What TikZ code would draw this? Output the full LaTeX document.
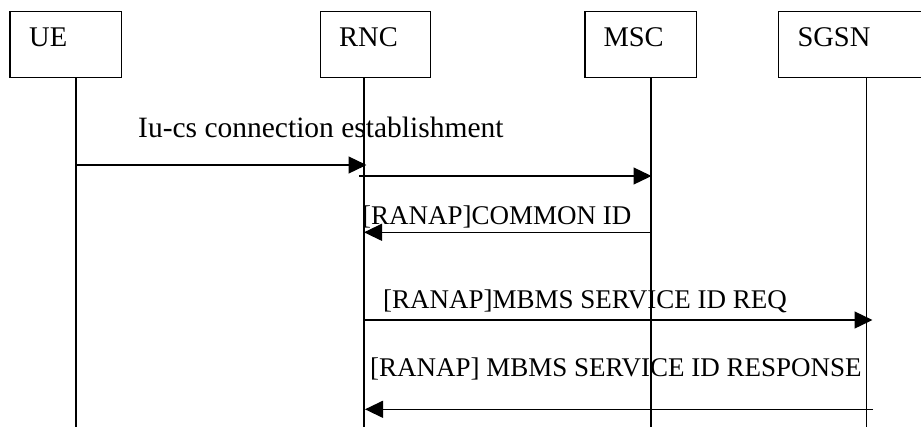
\documentclass[tikz,border=0pt]{standalone}
\usepackage{fontspec}
\setmainfont{Liberation Serif}
\usetikzlibrary{arrows.meta}
\begin{document}
\begin{tikzpicture}[x=1pt,y=-1pt,
  entbox/.style={draw, line width=1.3pt, anchor=north west, minimum height=66pt, inner sep=0pt},
  entlbl/.style={anchor=base west, inner sep=0pt, font=\fontsize{28.5}{30}\selectfont},
  msglbl/.style={anchor=base west, inner sep=0pt, font=\fontsize{27}{29}\selectfont},
  life/.style={line width=1.3pt},
  msg/.style={line width=1.3pt, -{Triangle[length=18pt,width=17pt]}}]
\useasboundingbox (0,0) rectangle (921,426);
\clip (0,0) rectangle (921,426);
% entity boxes
\node[entbox, minimum width=111.4pt] (ue) at (9.3,10.7) {};
\node[entbox, minimum width=110pt] (rnc) at (320,10.7) {};
\node[entbox, minimum width=111.4pt] (msc) at (584.3,10.7) {};
\node[entbox, minimum width=160pt] (sgsn) at (777.7,10.7) {};
\node[entlbl] (uet) at (29,46.7) {UE};
\node[entlbl] (rnct) at (339,46.7) {RNC};
\node[entlbl] (msct) at (603.3,46.7) {MSC};
\node[entlbl] (sgsnt) at (797.3,46.7) {SGSN};
% lifelines
\coordinate (uetop) at (ue.south -| 76,0);
\coordinate (rnctop) at (rnc.south -| 364,0);
\coordinate (msctop) at (msc.south -| 651,0);
\coordinate (sgsntop) at (sgsn.south -| 866.7,0);
\coordinate (uebot) at (76,430);
\coordinate (rncbot) at (364,430);
\coordinate (mscbot) at (651,430);
\coordinate (sgsnbot) at (866.7,430);
\draw[life] (uetop) -- (uebot);
\draw[life] (rnctop) -- (rncbot);
\draw[life] (msctop) -- (mscbot);
\draw[life] (sgsntop) -- (sgsnbot);
% message points
\coordinate (m1a) at (76,165);   \coordinate (m1b) at (366.5,165);
\coordinate (m2a) at (359,176);  \coordinate (m2b) at (651.5,176);
\coordinate (m3a) at (651,232.3);\coordinate (m3b) at (364,232.3);
\coordinate (m4a) at (364,320);  \coordinate (m4b) at (872.5,320);
\coordinate (m5a) at (873,409.3);\coordinate (m5b) at (365,409.3);
\draw[msg] (m1a) -- (m1b);
\draw[msg] (m2a) -- (m2b);
\draw[msg] (m3a) -- (m3b);
\draw[msg] (m4a) -- (m4b);
\draw[msg] (m5a) -- (m5b);
% labels
\node[msglbl, font=\fontsize{29.5}{31}\selectfont] (l1) at (138,137.3) {Iu-cs connection establishment};
\node[msglbl] (l3) at (362,224.3) {[RANAP]COMMON ID};
\node[msglbl] (l4) at (383,308.3) {[RANAP]MBMS SERVICE ID REQ};
\node[msglbl] (l5) at (370,376.7) {[RANAP] MBMS SERVICE ID RESPONSE};
\end{tikzpicture}
\end{document}
